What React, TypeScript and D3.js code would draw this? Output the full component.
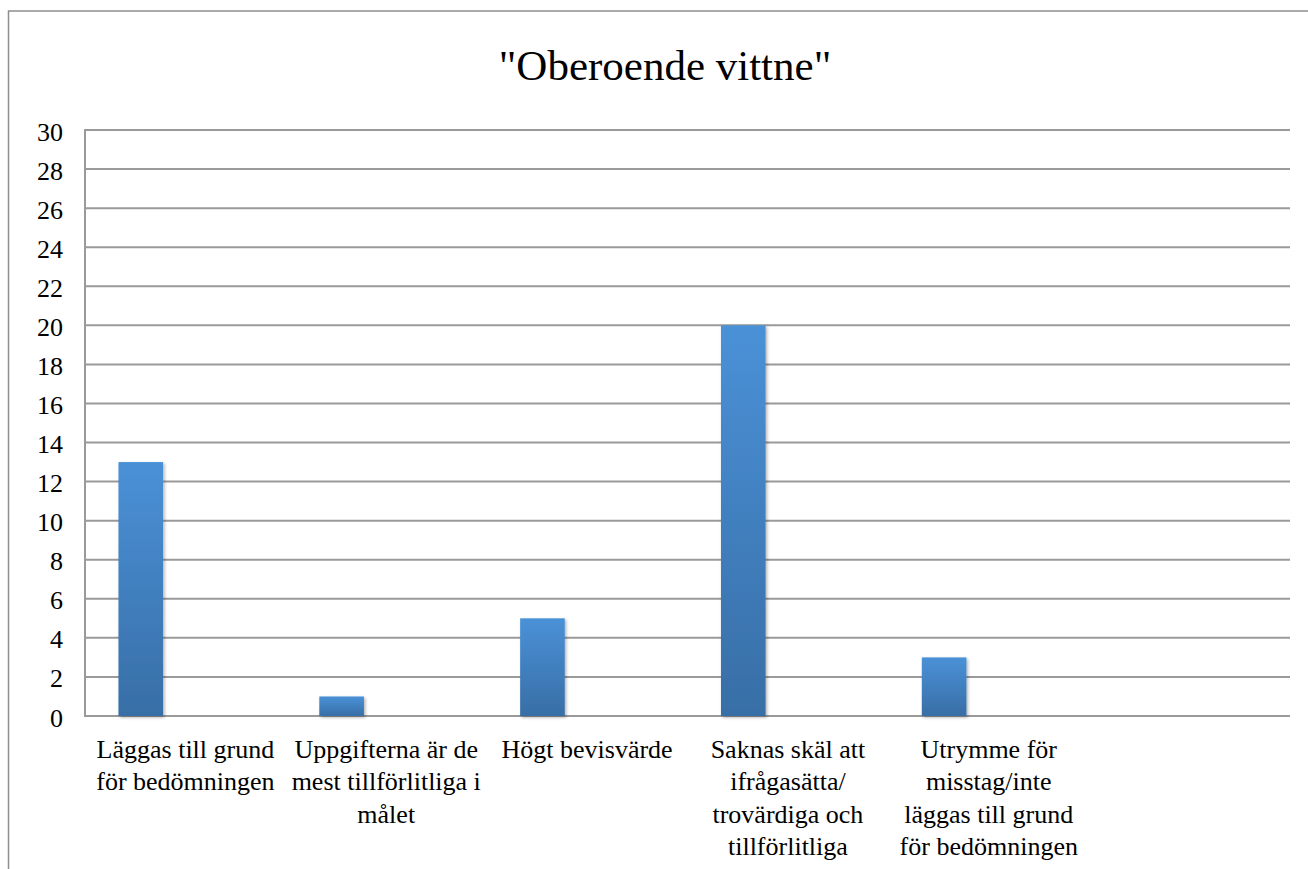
import React from "react";
import * as d3 from "d3";

const title = '"Oberoende vittne"';
const categories = ["c1", "c2", "c3", "c4", "c5", "c6"];
const categoryLines: string[][] = [
  ["Läggas till grund", "för bedömningen"],
  ["Uppgifterna är de", "mest tillförlitliga i", "målet"],
  ["Högt bevisvärde"],
  ["Saknas skäl att", "ifrågasätta/", "trovärdiga och", "tillförlitliga"],
  ["Utrymme för", "misstag/inte", "läggas till grund", "för bedömningen"],
  [],
];
const values: (number | null)[] = [13, 1, 5, 20, 3, null];
const yTicks = d3.range(0, 31, 2);

const W = 1308;
const H = 869;
const plot = { left: 85, right: 1290, top: 130, bottom: 716 };
const font = "'Liberation Serif', 'Times New Roman', serif";

export default function App() {
  const x = d3.scaleBand<string>().domain(categories).range([plot.left, plot.right]).padding(0);
  const y = d3.scaleLinear().domain([0, 30]).range([plot.bottom, plot.top]);
  const bw = x.bandwidth();
  // three-series cluster layout with 150% gap; only the first series holds data
  const barW = bw / 4.5;
  const barOff = barW * 0.75;

  return (
    <svg width={W} height={H} style={{ position: "absolute", left: 0, top: 0, background: "#fff" }}>
      <defs>
        <linearGradient id="barGrad" x1="0" y1="0" x2="0" y2="1">
          <stop offset="0" stopColor="#4a91d7" />
          <stop offset="1" stopColor="#386ea6" />
        </linearGradient>
        <filter id="shadow" x="-20%" y="-20%" width="140%" height="140%">
          <feDropShadow dx="1.5" dy="1.5" stdDeviation="1.5" floodColor="#000" floodOpacity="0.3" />
        </filter>
      </defs>

      {/* outer chart frame */}
      <rect x={8.5} y={11} width={1320} height={880} fill="none" stroke="#8e8e8e" strokeWidth={1.5} />

      <text x={665} y={80} textAnchor="middle" style={{ fontFamily: font, fontSize: 43 }} fill="#000">
        {title}
      </text>

      {/* gridlines */}
      {yTicks.map((t) => (
        <line
          key={t}
          x1={plot.left}
          x2={plot.right}
          y1={y(t)}
          y2={y(t)}
          stroke="#9a9a9a"
          strokeWidth={2}
        />
      ))}
      <line x1={plot.left} x2={plot.left} y1={plot.top - 1} y2={plot.bottom + 1} stroke="#9a9a9a" strokeWidth={2} />

      {/* y tick labels */}
      {yTicks.map((t) => (
        <text
          key={t}
          x={63}
          y={y(t) + 10.5}
          textAnchor="end"
          style={{ fontFamily: font, fontSize: 26 }}
          fill="#000"
        >
          {t}
        </text>
      ))}

      {/* bars */}
      {categories.map((c, i) => {
        const v = values[i];
        if (v == null) return null;
        const bx = (x(c) as number) + barOff;
        return (
          <rect
            key={c}
            x={bx}
            y={y(v)}
            width={barW}
            height={y(0) - y(v)}
            fill="url(#barGrad)"
            filter="url(#shadow)"
          />
        );
      })}

      {/* category labels */}
      {categories.map((c, i) => (
        <text
          key={c}
          x={(x(c) as number) + bw / 2}
          y={758}
          textAnchor="middle"
          style={{ fontFamily: font, fontSize: 26 }}
          fill="#000"
        >
          {categoryLines[i].map((line, j) => (
            <tspan key={j} x={(x(c) as number) + bw / 2} dy={j === 0 ? 0 : 32.3}>
              {line}
            </tspan>
          ))}
        </text>
      ))}
    </svg>
  );
}
